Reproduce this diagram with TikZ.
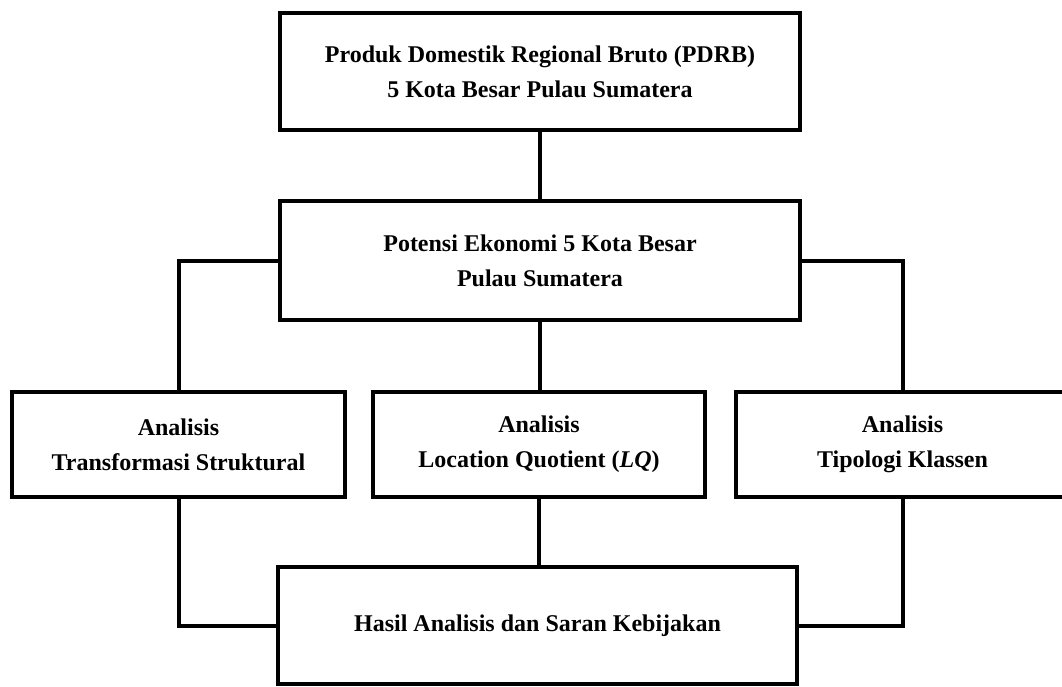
\documentclass[tikz,border=0pt]{standalone}
\usepackage{fontspec}
\setmainfont{Liberation Serif}
\begin{document}
\begin{tikzpicture}[x=1pt,y=-1pt,
  box/.style={draw=black, line width=4pt, outer sep=0pt, inner sep=0pt, align=center,
    font=\fontsize{24}{35}\selectfont\bfseries},
  conn/.style={draw=black, line width=4pt}]
\useasboundingbox (0,0) rectangle (1062,686);
\node[box, minimum width=520pt, minimum height=117pt] (top) at (540,71.5)
  {Produk Domestik Regional Bruto (PDRB)\\5 Kota Besar Pulau Sumatera};
\node[box, minimum width=520pt, minimum height=119pt] (mid) at (540,260.5)
  {Potensi Ekonomi 5 Kota Besar\\Pulau Sumatera};
\node[box, minimum width=333pt, minimum height=105pt] (left) at (178.5,444.5)
  {Analisis\\Transformasi Struktural};
\node[box, minimum width=332pt, minimum height=105pt] (center) at (539,444.5)
  {Analisis\\Location Quotient (\textit{LQ})};
\node[box, minimum width=333pt, minimum height=105pt] (right) at (902.5,444.5)
  {Analisis\\Tipologi Klassen};
\node[box, minimum width=519pt, minimum height=117pt] (bottom) at (537.5,625.5)
  {Hasil Analisis dan Saran Kebijakan};
\draw[conn] (top.south) -- (mid.north);
\draw[conn] (mid.west) -| (left.north);
\draw[conn] (mid.east) -| (right.north);
\draw[conn] (mid.south) -- (mid.south |- center.north);
\draw[conn] (left.south) |- (bottom.west);
\draw[conn] (center.south) -- (center.south |- bottom.north);
\draw[conn] (right.south) |- (bottom.east);
\end{tikzpicture}
\end{document}
